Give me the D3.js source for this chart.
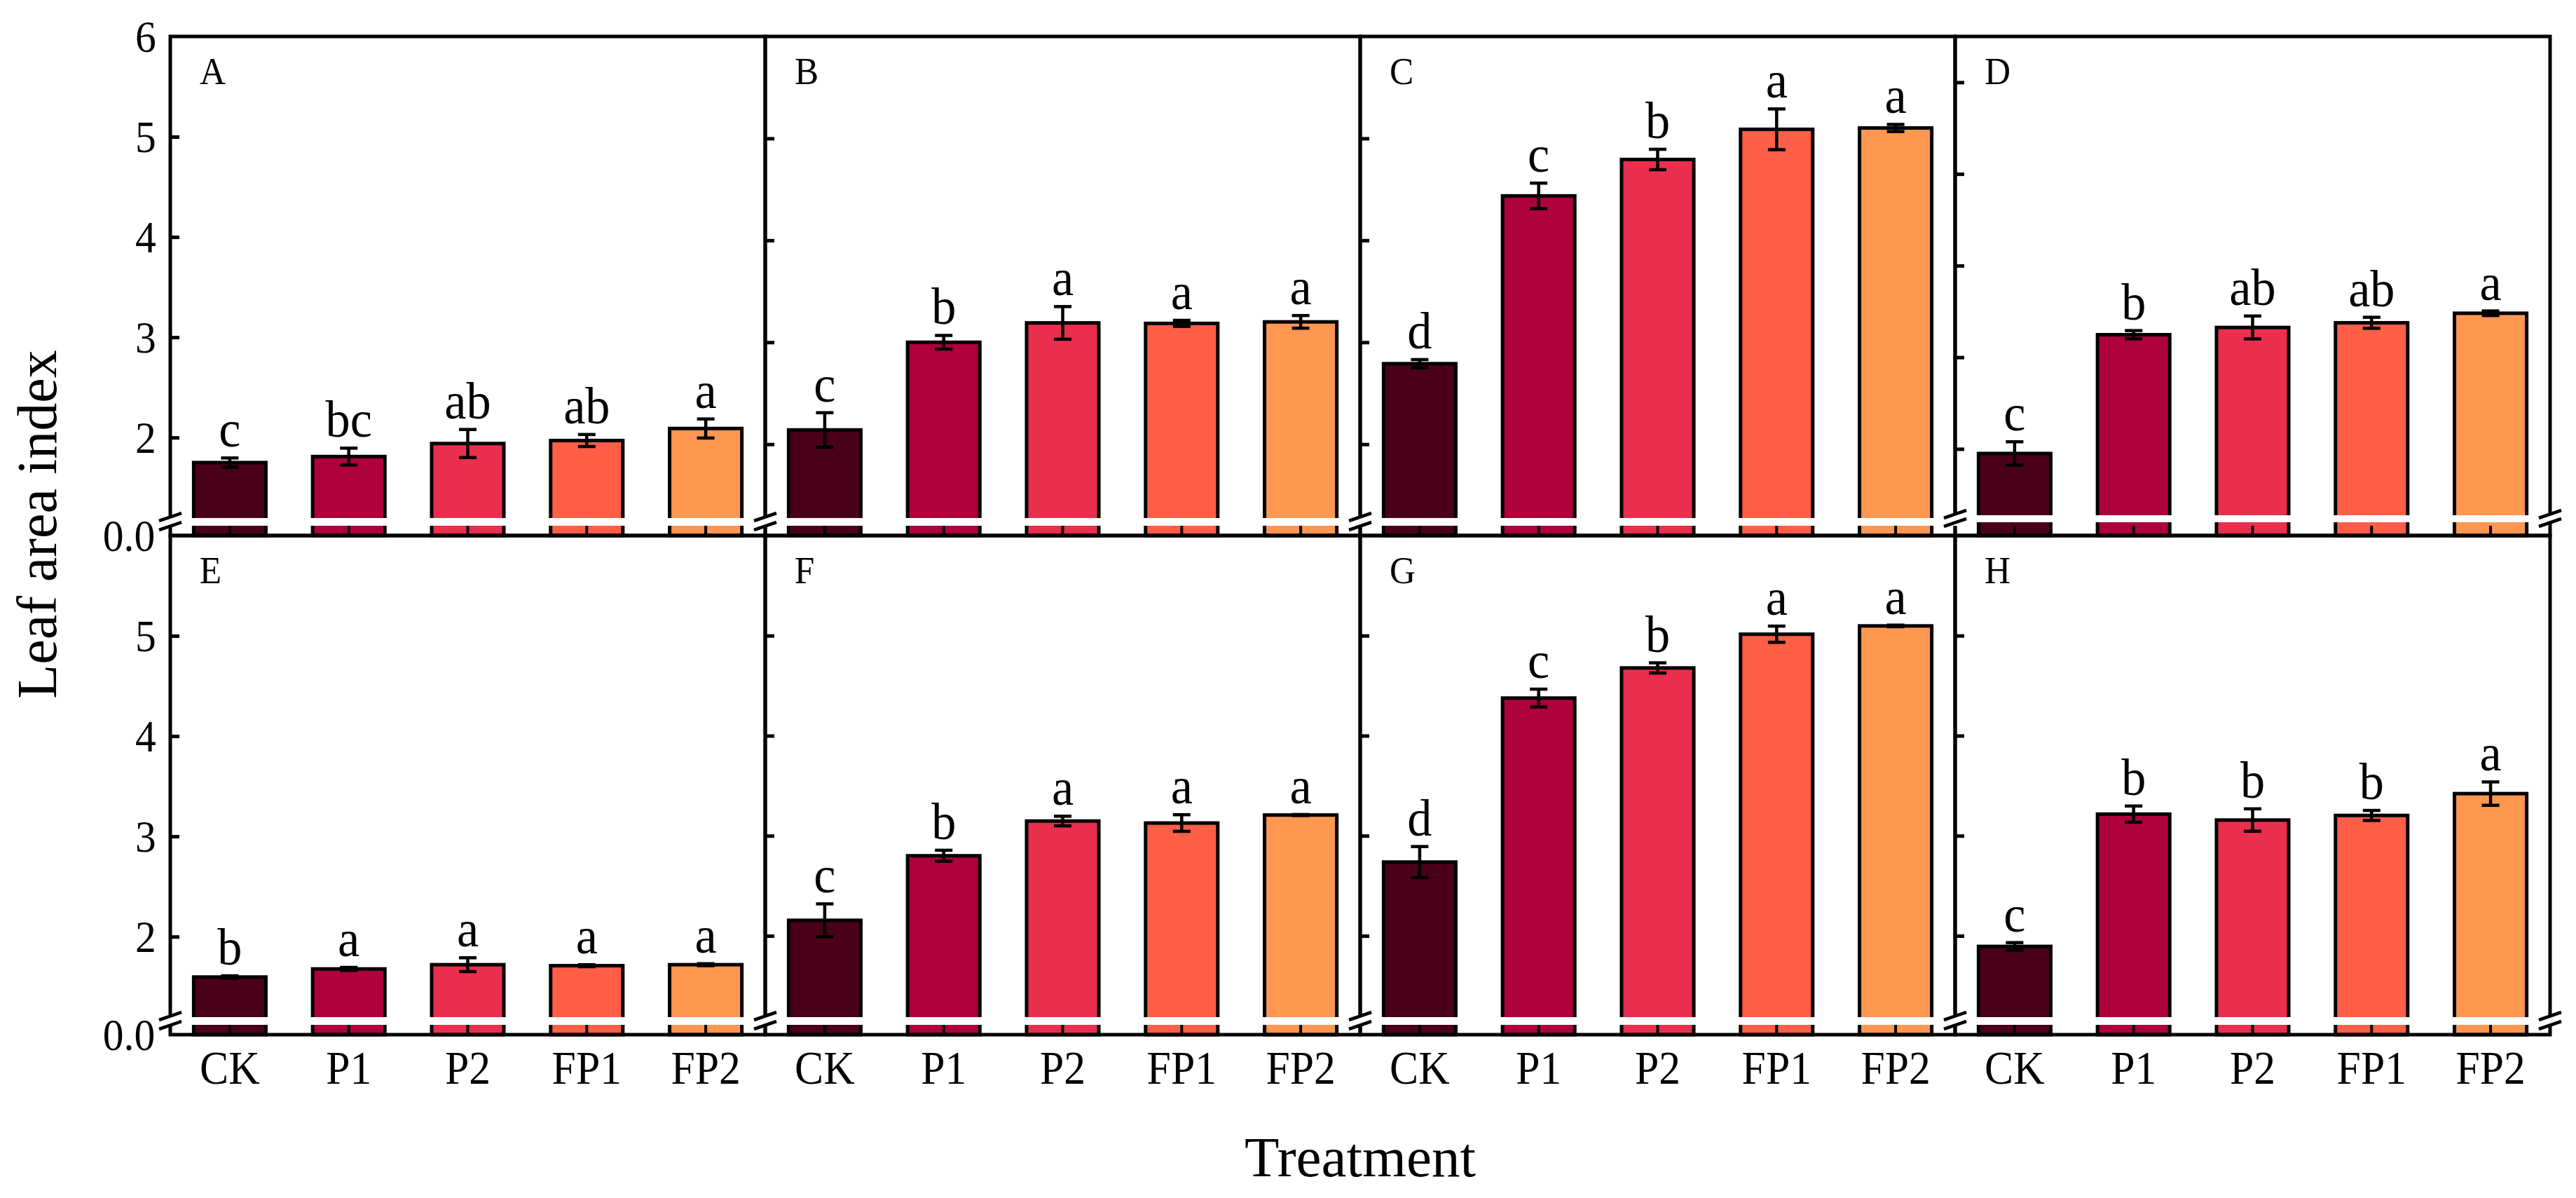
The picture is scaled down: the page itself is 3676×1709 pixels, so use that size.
<!DOCTYPE html>
<html>
<head>
<meta charset="utf-8">
<script src="https://cdn.jsdelivr.net/npm/d3@7/dist/d3.min.js"></script>
<style>
  html, body { margin: 0; padding: 0; background: #fff; }
  svg { display: block; }
  text { font-family: "Liberation Serif", "Times New Roman", serif; fill: #000; }
  .cx92 { transform-box: fill-box; transform-origin: center; transform: scaleX(0.92); }
  .cx93 { transform-box: fill-box; transform-origin: center; transform: scaleX(0.93); }
  .cx95 { transform-box: fill-box; transform-origin: center; transform: scaleX(0.95); }
</style>
</head>
<body>
<svg id="chart" width="3676" height="1709"></svg>
<script>
// ---------------- data ----------------
const treatments = ["CK", "P1", "P2", "FP1", "FP2"];
const panelNames = ["A", "B", "C", "D", "E", "F", "G", "H"];
const colors = ["#4b0019", "#ae003b", "#ea2e4e", "#ff5e47", "#ff9751"];

const valuesA = [1.75, 1.81, 1.94, 1.97, 2.09];
const errorsA = [0.046, 0.084, 0.14, 0.06, 0.095];
const lettersA = ["c", "bc", "ab", "ab", "a"];

const valuesB = [2.14, 3.00, 3.19, 3.185, 3.20];
const errorsB = [0.169, 0.067, 0.16, 0.03, 0.062];
const lettersB = ["c", "b", "a", "a", "a"];

const valuesC = [2.79, 4.436, 4.793, 5.089, 5.102];
const errorsC = [0.04, 0.125, 0.10, 0.20, 0.035];
const lettersC = ["d", "c", "b", "a", "a"];

const valuesD = [1.95, 3.246, 3.325, 3.376, 3.48];
const errorsD = [0.128, 0.045, 0.125, 0.06, 0.025];
const lettersD = ["c", "b", "ab", "ab", "a"];

const valuesE = [1.597, 1.678, 1.72, 1.71, 1.72];
const errorsE = [0.012, 0.015, 0.069, 0.01, 0.01];
const lettersE = ["b", "a", "a", "a", "a"];

const valuesF = [2.155, 2.80, 3.147, 3.127, 3.207];
const errorsF = [0.164, 0.055, 0.048, 0.083, 0.005];
const lettersF = ["c", "b", "a", "a", "a"];

const valuesG = [2.737, 4.376, 4.677, 5.014, 5.097];
const errorsG = [0.155, 0.089, 0.051, 0.081, 0.008];
const lettersG = ["d", "c", "b", "a", "a"];

const valuesH = [1.894, 3.216, 3.157, 3.203, 3.421];
const errorsH = [0.038, 0.081, 0.112, 0.05, 0.117];
const lettersH = ["c", "b", "b", "b", "a"];

// axis ranges of each panel (broken y axis: 0 .. break, break .. max)
const axisMax   = [6, 6, 6, 6.5, 6, 6, 6, 6];
const axisBreak = [1.12, 1.2, 1.2, 1.2, 1.12, 1.11, 1.11, 1.11];
const yTickLabelsTop = [0, 2, 3, 4, 5, 6];
const yTickLabelsBottom = [0, 2, 3, 4, 5];

const allValues = [valuesA, valuesB, valuesC, valuesD, valuesE, valuesF, valuesG, valuesH];
const allErrors = [errorsA, errorsB, errorsC, errorsD, errorsE, errorsF, errorsG, errorsH];
const allLetters = [lettersA, lettersB, lettersC, lettersD, lettersE, lettersF, lettersG, lettersH];

// ---------------- layout ----------------
const left0 = 243, panelW = 849;
const rowTop = [52, 764], rowBottom = [764, 1476];
const gapOff = [14, 14, 14, 19, 14, 14, 14, 14];   // gap bottom above the x axis
const gapH = [11, 11, 11, 10, 11, 11, 11, 11];
const SW = 5;
const FONT = '"Liberation Serif", "Times New Roman", serif';

const svg = d3.select("#chart");
const gBars = svg.append("g");
const gFrame = svg.append("g");
const gBand = svg.append("g");
const gTop = svg.append("g");

panelNames.forEach((name, p) => {
  const row = p < 4 ? 0 : 1;
  const col = p % 4;
  const x0 = left0 + col * panelW, x1 = x0 + panelW;
  const top = rowTop[row], bottom = rowBottom[row];
  const gapBottom = bottom - gapOff[p], gapTop = gapBottom - gapH[p];

  const x = d3.scaleBand().domain(treatments).range([x0, x1]).paddingInner(0.393).paddingOuter(0.1965);
  const y = d3.scaleLinear().domain([0, axisBreak[p], axisMax[p]]).range([bottom, gapBottom, top]);

  const data = treatments.map((t, i) => ({
    t, v: allValues[p][i], e: allErrors[p][i], l: allLetters[p][i], c: colors[i]
  }));

  // bars
  gBars.selectAll(null).data(data).enter().append("rect")
    .attr("x", d => x(d.t)).attr("width", x.bandwidth())
    .attr("y", d => y(d.v)).attr("height", d => y(0) - y(d.v))
    .attr("fill", d => d.c).attr("stroke", "#000").attr("stroke-width", SW);

  // frame
  gFrame.append("rect").attr("x", x0).attr("y", top).attr("width", panelW).attr("height", bottom - top)
    .attr("fill", "none").attr("stroke", "#000").attr("stroke-width", SW);

  // y axis (inner ticks)
  const tickVals = d3.range(2, axisMax[p]);
  const yAxis = d3.axisLeft(y).tickValues(tickVals).tickSize(-13).tickFormat("");
  const ga = gFrame.append("g").attr("transform", `translate(${x0},0)`).call(yAxis);
  ga.select(".domain").remove();
  ga.selectAll(".tick line").attr("stroke", "#000").attr("stroke-width", SW);

  if (col === 0) {
    const labs = row === 0 ? yTickLabelsTop : yTickLabelsBottom;
    const yLab = d3.axisLeft(y).tickValues(labs).tickSize(0).tickPadding(19)
      .tickFormat(d => d === 0 ? "0.0" : d3.format("d")(d));
    const gl = gFrame.append("g").attr("transform", `translate(${x0},0)`).call(yLab);
    gl.select(".domain").remove();
    gl.selectAll(".tick line").remove();
    gl.selectAll(".tick text").attr("font-size", 64).attr("dy", "0.34em")
      .attr("class", "cx93").style("font-family", FONT);
  }

  // x axis (inner ticks)
  const xAxis = d3.axisBottom(x).tickSize(-14).tickPadding(22);
  const gx = gTop.append("g").attr("transform", `translate(0,${bottom})`).call(xAxis);
  gx.select(".domain").remove();
  gx.selectAll(".tick line").attr("stroke", "#000").attr("stroke-width", 4);
  if (row === 1) {
    gx.selectAll(".tick text").attr("font-size", 67).attr("class", "cx92")
      .style("font-family", FONT);
  } else {
    gx.selectAll(".tick text").remove();
  }

  // white break band
  gBand.append("rect").attr("x", x0 - 3).attr("width", panelW + 6)
    .attr("y", gapTop).attr("height", gapBottom - gapTop).attr("fill", "#fff");

  // break marks
  const breakXs = col === 3 ? [x0, x1] : [x0];
  breakXs.forEach(bx => {
    [gapTop - 1.5, gapBottom + 0.5].forEach(yc => {
      gTop.append("line").attr("x1", bx - 16).attr("y1", yc + 5.5)
        .attr("x2", bx + 16).attr("y2", yc - 5.5)
        .attr("stroke", "#000").attr("stroke-width", 4.5);
    });
  });

  // error bars
  const cap = 12.5;
  const eb = gTop.append("g").attr("stroke", "#000").attr("stroke-width", 4.5);
  data.forEach(d => {
    const cx = x(d.t) + x.bandwidth() / 2;
    const y1 = y(d.v + d.e), y2 = y(d.v - d.e);
    eb.append("line").attr("x1", cx).attr("x2", cx).attr("y1", y1).attr("y2", y2);
    eb.append("line").attr("x1", cx - cap).attr("x2", cx + cap).attr("y1", y1).attr("y2", y1);
    eb.append("line").attr("x1", cx - cap).attr("x2", cx + cap).attr("y1", y2).attr("y2", y2);
  });

  // significance letters
  gTop.selectAll(null).data(data).enter().append("text")
    .attr("x", d => x(d.t) + x.bandwidth() / 2)
    .attr("y", d => y(d.v + d.e) - 16)
    .attr("text-anchor", "middle").attr("font-size", 74).attr("class", "cx95")
    .text(d => d.l);

  // panel label
  gTop.append("text").attr("x", x0 + 41).attr("y", top + 68)
    .attr("font-size", 54).attr("class", "cx95").text(name);
});

// axis titles
svg.append("text").attr("transform", "translate(80,748) rotate(-90)")
  .attr("text-anchor", "middle").attr("font-size", 80).text("Leaf area index");
svg.append("text").attr("x", 1941).attr("y", 1678)
  .attr("text-anchor", "middle").attr("font-size", 81).text("Treatment");
</script>
</body>
</html>
